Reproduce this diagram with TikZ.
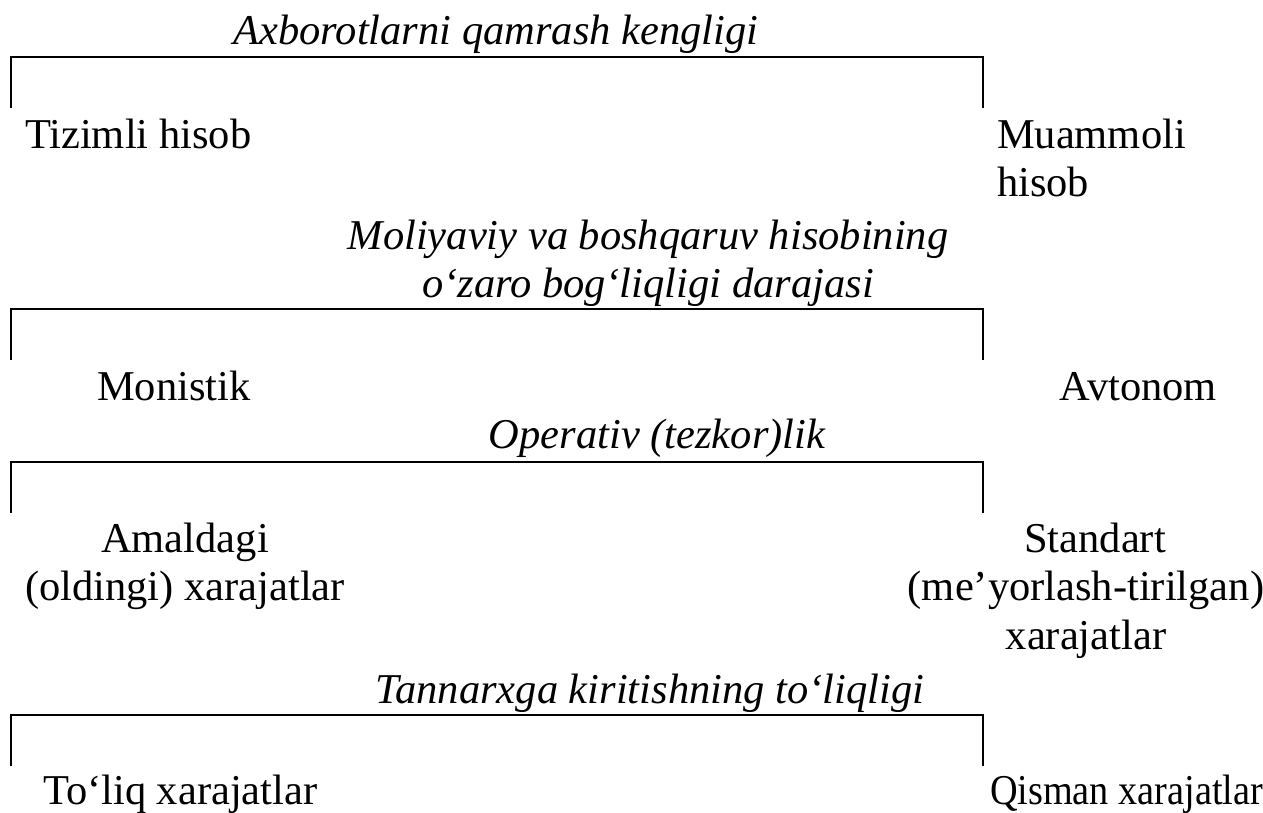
\documentclass[tikz,border=0pt]{standalone}
\usepackage{fontspec}
\setmainfont{Liberation Serif}
\newcommand\labelfont{\fontsize{42.5}{48.8}\selectfont}
\begin{document}
\begin{tikzpicture}[x=1pt,y=-1pt,
  every node/.style={inner sep=0pt, outer sep=0pt, font=\labelfont},
  head/.style={font=\labelfont\itshape, anchor=base},
  leftlbl/.style={anchor=base west},
  rightlbl/.style={anchor=base east},
  midlbl/.style={anchor=base},
  bracketline/.style={line width=2.7pt, line join=miter, line cap=butt}
]
\useasboundingbox (0,0) rectangle (1263,812);

% Axis 1: breadth of information coverage
\node[head] (h1) at (496,44) {Axborotlarni qamrash kengligi};
\coordinate (b1a) at (11,108);
\coordinate (b1b) at (11,57);
\coordinate (b1c) at (983,57);
\coordinate (b1d) at (983,108);
\draw[bracketline] (b1a) -- (b1b) -- (b1c) -- (b1d);
\node[leftlbl] (l1) at (25,148) {Tizimli hisob};
\node[leftlbl] (r1) at (997,148) {\begin{tabular}[t]{@{}l@{}}Muammoli\\hisob\end{tabular}};

% Axis 2: degree of integration of financial and management accounting
\node[head] (h2) at (648,249) {\begin{tabular}[t]{@{}c@{}}Moliyaviy va boshqaruv hisobining\\o‘zaro bog‘liqligi darajasi\end{tabular}};
\coordinate (b2a) at (11,360);
\coordinate (b2b) at (11,309);
\coordinate (b2c) at (983,309);
\coordinate (b2d) at (983,360);
\draw[bracketline] (b2a) -- (b2b) -- (b2c) -- (b2d);
\node[leftlbl] (l2) at (97,400) {Monistik};
\node[rightlbl] (r2) at (1217,400) {Avtonom};

% Axis 3: timeliness
\node[head] (h3) at (657,448) {Operativ (tezkor)lik};
\coordinate (b3a) at (11,513);
\coordinate (b3b) at (11,462);
\coordinate (b3c) at (983,462);
\coordinate (b3d) at (983,513);
\draw[bracketline] (b3a) -- (b3b) -- (b3c) -- (b3d);
\node[midlbl] (l3) at (185,552) {\begin{tabular}[t]{@{}c@{}}Amaldagi\\(oldingi) xarajatlar\end{tabular}};
\node[midlbl] (r3) at (1086,552) {\begin{tabular}[t]{@{}c@{}}\hspace*{18pt}Standart\\(me’yorlash-tirilgan)\\xarajatlar\end{tabular}};

% Axis 4: completeness of inclusion in cost
\node[head] (h4) at (650,703) {Tannarxga kiritishning to‘liqligi};
\coordinate (b4a) at (11,766);
\coordinate (b4b) at (11,715);
\coordinate (b4c) at (983,715);
\coordinate (b4d) at (983,766);
\draw[bracketline] (b4a) -- (b4b) -- (b4c) -- (b4d);
\node[leftlbl] (l4) at (43,804) {To‘liq xarajatlar};
\node[rightlbl] (r4) at (1263,804) {\scalebox{0.9}[1]{Qisman xarajatlar}};
\end{tikzpicture}
\end{document}
